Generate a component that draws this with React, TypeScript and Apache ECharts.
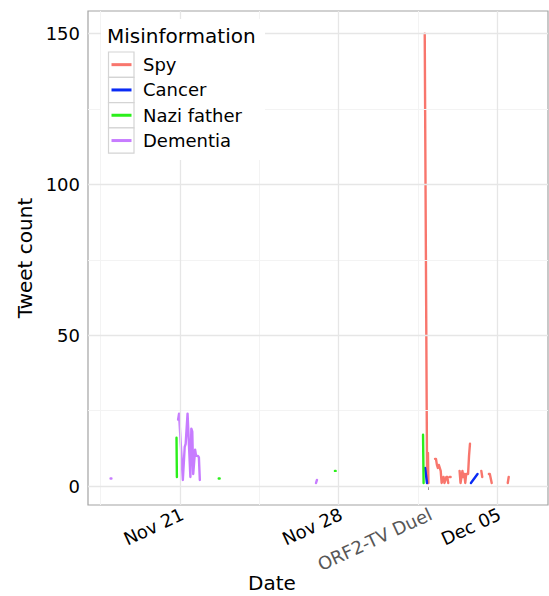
import React, { useEffect, useRef } from "react";
import * as echarts from "echarts";

// x values are hours since 2016-11-21 00:00; each series is a list of unbroken segments
const seriesNames = ["Spy", "Cancer", "Nazi father", "Dementia"];
const seriesColors = ["#F8766D", "#0A2BF5", "#2BEF1B", "#C77CFF"];

const spySegments: number[][][] = [
  [[259.1, 150], [261.6, 1], [262.5, 11], [263, 1]],
  [[270, 9], [271, 9], [272, 7], [273, 6], [274, 7], [275, 6], [276, 5], [277, 1], [279, 3], [280, 1], [282, 3], [283, 3], [284, 1]],
  [[285.5, 3], [286.5, 3]],
  [[296, 5], [297, 1], [299, 5], [300, 3], [301, 4], [302, 1], [303, 4], [305, 4], [306, 10], [307, 14]],
  [[319, 5], [320, 3]],
  [[327, 4], [328, 4], [330, 1]],
  [[347, 1], [348, 3]],
];
const cancerSegments: number[][][] = [
  [[259.5, 6], [261.5, 1]],
  [[308, 1], [315, 4]],
];
const naziSegments: number[][][] = [
  [[-3.7, 16], [-3.3, 3]],
  [[10.3, 1.5], [10.8, 1.5]],
  [[41, 2.5], [42, 2.5]],
  [[164, 5], [164.8, 5]],
  [[257.3, 17], [257.9, 1]],
];
const dementiaSegments: number[][][] = [
  [[-73.5, 2.5], [-72.6, 2.5]],
  [[-2, 22], [-1, 24], [3, 2], [5, 13], [6, 14], [8, 24], [11, 3], [12, 19], [13, 18], [14, 4], [16, 12], [17, 10], [19, 10], [20, 9.5], [21, 2]],
  [[144, 1], [145, 2]],
];

const xTickHours = [0, 168, 262.9, 336];
const xTickLabels = ["Nov 21", "Nov 28", "ORF2-TV Duel", "Dec 05"];
const xMinorGrid = [-84, 84, 252];
const xMajorGrid = [0, 168, 336];
const yTicks = [0, 50, 100, 150];
const yMinorGrid = [25, 75, 125];
const xTitle = "Date";
const yTitle = "Tweet count";
const legendTitle = "Misinformation";

const FONT = "DejaVu Sans";
const LABEL_SHIFT_H = 2.5; // rotated tick labels sit slightly right of their tick

function buildData(segments: number[][][]) {
  const out: any[] = [];
  segments.forEach((seg, i) => {
    if (i > 0) {
      const prev = segments[i - 1];
      out.push([(prev[prev.length - 1][0] + seg[0][0]) / 2, "-"]);
    }
    seg.forEach((p) => out.push(p));
  });
  return out;
}

export default function App() {
  const ref = useRef<HTMLDivElement>(null);
  useEffect(() => {
    document.body.style.margin = "0";
    const chart = echarts.init(ref.current!, null, { renderer: "svg" });
    const allSegments = [spySegments, cancerSegments, naziSegments, dementiaSegments];

    const gridLines: any[] = [
      ...xMinorGrid.map((v) => ({ xAxis: v, lineStyle: { color: "#f3f3f3", width: 1, type: "solid" } })),
      ...yMinorGrid.map((v) => ({ yAxis: v, lineStyle: { color: "#f3f3f3", width: 1, type: "solid" } })),
      ...xMajorGrid.map((v) => ({ xAxis: v, lineStyle: { color: "#e6e6e6", width: 1.3, type: "solid" } })),
      ...yTicks.map((v) => ({ yAxis: v, lineStyle: { color: "#e6e6e6", width: 1.3, type: "solid" } })),
    ];

    const legendTop = 52;
    const keyH = 25.3;
    const graphics: any[] = [
      {
        type: "text",
        x: 272,
        y: 583,
        style: {
          text: xTitle,
          font: `20px '${FONT}'`,
          fill: "#000",
          align: "center",
          verticalAlign: "middle",
        },
      },
      {
        type: "rect",
        shape: { x: 101, y: 19, width: 164, height: 141 },
        style: { fill: "#fff" },
        z: 99,
      },
      {
        type: "text",
        x: 107,
        y: 36,
        style: {
          text: legendTitle,
          font: `20px '${FONT}'`,
          fill: "#000",
          verticalAlign: "middle",
        },
        z: 101,
      },
    ];
    seriesNames.forEach((name, i) => {
      const y0 = legendTop + keyH * i;
      graphics.push({
        type: "rect",
        shape: { x: 108.5, y: y0, width: 25.5, height: keyH },
        style: { fill: "#fff", stroke: "#d4d4d4", lineWidth: 1.2 },
        z: 100,
      });
      graphics.push({
        type: "line",
        shape: { x1: 111.5, y1: y0 + keyH / 2, x2: 131.5, y2: y0 + keyH / 2 },
        style: { stroke: seriesColors[i], lineWidth: 3 },
        z: 101,
      });
      graphics.push({
        type: "text",
        x: 143,
        y: y0 + keyH / 2,
        style: {
          text: name,
          font: `18px '${FONT}'`,
          fill: "#000",
          verticalAlign: "middle",
        },
        z: 101,
      });
    });

    const labelValues = xTickHours.map((h) => h + LABEL_SHIFT_H);

    chart.setOption({
      animation: false,
      backgroundColor: "#fff",
      grid: {
        left: 88,
        right: 1,
        top: 11,
        bottom: 91,
        containLabel: false,
        outerBoundsMode: "none",
        show: true,
        borderColor: "#a3a3a3",
        borderWidth: 1.2,
        backgroundColor: "transparent",
      },
      xAxis: {
        type: "value",
        min: -97.4,
        max: 389.6,
        axisLine: { show: false },
        splitLine: { show: false },
        axisTick: {
          show: true,
          length: 4,
          customValues: xTickHours,
          lineStyle: { color: "#999", width: 1 },
        },
        axisLabel: {
          customValues: labelValues,
          rotate: 25,
          margin: 8,
          fontFamily: FONT,
          fontSize: 18,
          color: "#000",
          formatter: (v: number) => {
            const i = labelValues.findIndex((t) => Math.abs(t - v) < 1e-6);
            const lab = i >= 0 ? xTickLabels[i] : "";
            return i === 2 ? `{g|${lab}}` : lab;
          },
          rich: { g: { color: "#575757", fontFamily: FONT, fontSize: 18 } },
        },
      },
      yAxis: {
        type: "value",
        min: -6.3,
        max: 157.5,
        name: yTitle,
        nameLocation: "middle",
        nameGap: 50,
        nameTextStyle: { fontFamily: FONT, fontSize: 20, color: "#000" },
        axisLine: { show: false },
        splitLine: { show: false },
        axisTick: {
          show: true,
          length: 4,
          customValues: yTicks,
          lineStyle: { color: "#999", width: 1 },
        },
        axisLabel: {
          customValues: yTicks,
          margin: 8,
          fontFamily: FONT,
          fontSize: 18,
          color: "#000",
        },
      },
      graphic: graphics,
      series: [
        {
          type: "line",
          name: "grid",
          data: [],
          z: 1,
          silent: true,
          markLine: {
            silent: true,
            symbol: ["none", "none"],
            label: { show: false },
            animation: false,
            data: gridLines,
          },
        },
        ...seriesNames.map((name, i) => ({
          type: "line",
          name,
          data: buildData(allSegments[i]),
          z: 2,
          showSymbol: false,
          symbol: "none",
          connectNulls: false,
          lineStyle: { color: seriesColors[i], width: 2.4, cap: "round", join: "round" },
        })),
      ],
    });
    return () => chart.dispose();
  }, []);
  return <div ref={ref} style={{ width: 549, height: 596 }} />;
}
